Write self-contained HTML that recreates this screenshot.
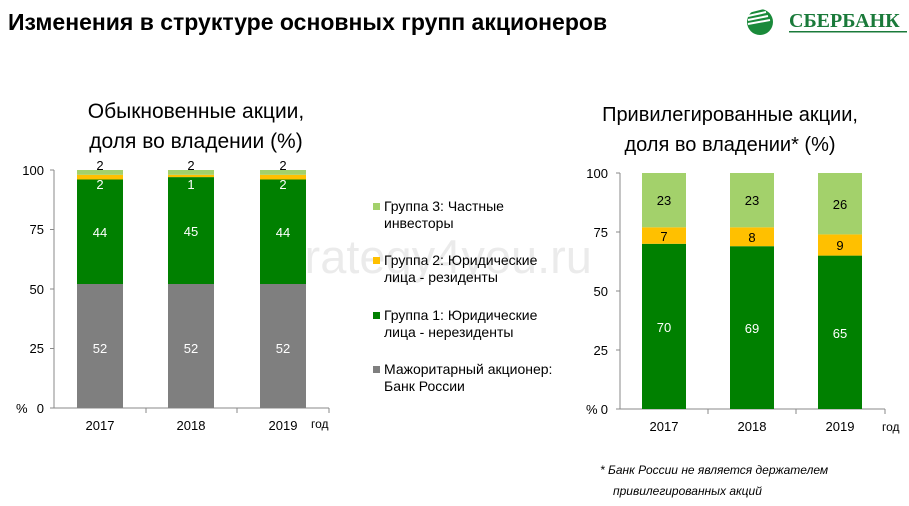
<!DOCTYPE html>
<html><head><meta charset="utf-8"><style>
body{margin:0;background:#fff;}
svg{display:block;font-family:"Liberation Sans",Arial,sans-serif;}
</style></head><body>
<svg width="909" height="506" viewBox="0 0 909 506" xmlns="http://www.w3.org/2000/svg">
<text x="8" y="30" font-size="23" font-weight="bold" fill="#000">Изменения в структуре основных групп акционеров</text>
<!-- logo -->
<circle cx="760" cy="22" r="13" fill="#1a8a3a"/>
<path d="M748 12 L764 8 M748 16 L766 12 M748 20 L768 16 M748 24 L770 20" stroke="#fff" stroke-width="2"/>
<text x="789" y="27" font-family="Liberation Serif,serif" font-size="20" font-weight="bold" fill="#1a7a3a">СБЕРБАНК</text>
<rect x="789" y="31" width="118" height="1.5" fill="#1a7a3a"/>
<!-- watermark -->
<text x="268" y="273" font-size="47" fill="#000" fill-opacity="0.08">strategy4you.ru</text>
<!-- left title -->
<text x="196" y="118" font-size="21" text-anchor="middle">Обыкновенные акции,</text>
<text x="196" y="148" font-size="21" text-anchor="middle">доля во владении  (%)</text>
<!-- left axes -->
<g stroke="#888" stroke-width="1">
<line x1="54" y1="170" x2="54" y2="408"/>
<line x1="54" y1="408" x2="329" y2="408"/>
<line x1="50" y1="170" x2="54" y2="170"/><line x1="50" y1="229.5" x2="54" y2="229.5"/><line x1="50" y1="289" x2="54" y2="289"/><line x1="50" y1="348.5" x2="54" y2="348.5"/><line x1="50" y1="408" x2="54" y2="408"/>
<line x1="146" y1="408" x2="146" y2="413"/><line x1="237" y1="408" x2="237" y2="413"/><line x1="329" y1="408" x2="329" y2="413"/>
</g>
<g font-size="13" text-anchor="end">
<text x="44" y="175">100</text><text x="44" y="234">75</text><text x="44" y="294">50</text><text x="44" y="353">25</text><text x="44" y="413">0</text>
</g>
<text x="16" y="413" font-size="13">%</text>
<g>
<rect x="77" y="284" width="46" height="124" fill="#7f7f7f"/><rect x="77" y="179.5" width="46" height="104.5" fill="#008000"/><rect x="77" y="174.8" width="46" height="4.7" fill="#ffc000"/><rect x="77" y="170" width="46" height="4.8" fill="#a3d16b"/>
<rect x="168" y="284" width="46" height="124" fill="#7f7f7f"/><rect x="168" y="177.1" width="46" height="106.9" fill="#008000"/><rect x="168" y="174.8" width="46" height="2.3" fill="#ffc000"/><rect x="168" y="170" width="46" height="4.8" fill="#a3d16b"/>
<rect x="260" y="284" width="46" height="124" fill="#7f7f7f"/><rect x="260" y="179.5" width="46" height="104.5" fill="#008000"/><rect x="260" y="174.8" width="46" height="4.7" fill="#ffc000"/><rect x="260" y="170" width="46" height="4.8" fill="#a3d16b"/>
</g>
<g font-size="13" text-anchor="middle" fill="#fff">
<text x="100" y="353">52</text><text x="191" y="353">52</text><text x="283" y="353">52</text>
<text x="100" y="237">44</text><text x="191" y="236">45</text><text x="283" y="237">44</text>
<text x="100" y="189">2</text><text x="191" y="189">1</text><text x="283" y="189">2</text>
</g>
<g font-size="13" text-anchor="middle" fill="#000">
<text x="100" y="170">2</text><text x="191" y="170">2</text><text x="283" y="170">2</text>
<text x="100" y="430">2017</text><text x="191" y="430">2018</text><text x="283" y="430">2019</text>
</g>
<text x="311" y="428" font-size="12">год</text>
<!-- legend -->
<g font-size="14" fill="#000">
<rect x="373" y="203" width="7" height="7" fill="#a3d16b"/><text x="384" y="211">Группа 3: Частные</text><text x="384" y="228">инвесторы</text>
<rect x="373" y="257" width="7" height="7" fill="#ffc000"/><text x="384" y="265">Группа 2: Юридические</text><text x="384" y="282">лица - резиденты</text>
<rect x="373" y="312" width="7" height="7" fill="#008000"/><text x="384" y="320">Группа 1: Юридические</text><text x="384" y="337">лица - нерезиденты</text>
<rect x="373" y="366" width="7" height="7" fill="#7f7f7f"/><text x="384" y="374">Мажоритарный акционер:</text><text x="384" y="391">Банк России</text>
</g>
<!-- right title -->
<text x="730" y="121" font-size="20" text-anchor="middle">Привилегированные акции,</text>
<text x="730" y="151" font-size="20" text-anchor="middle">доля во владении* (%)</text>
<g stroke="#888" stroke-width="1">
<line x1="620" y1="173" x2="620" y2="409"/>
<line x1="620" y1="409" x2="885" y2="409"/>
<line x1="616" y1="173" x2="620" y2="173"/><line x1="616" y1="232" x2="620" y2="232"/><line x1="616" y1="291" x2="620" y2="291"/><line x1="616" y1="350" x2="620" y2="350"/><line x1="616" y1="409" x2="620" y2="409"/>
<line x1="708" y1="409" x2="708" y2="414"/><line x1="796" y1="409" x2="796" y2="414"/><line x1="885" y1="409" x2="885" y2="414"/>
</g>
<g font-size="13" text-anchor="end">
<text x="608" y="178">100</text><text x="608" y="237">75</text><text x="608" y="296">50</text><text x="608" y="355">25</text><text x="608" y="414">0</text>
</g>
<text x="586" y="414" font-size="13">%</text>
<g>
<rect x="642" y="243.8" width="44" height="165.2" fill="#008000"/><rect x="642" y="227.3" width="44" height="16.5" fill="#ffc000"/><rect x="642" y="173" width="44" height="54.3" fill="#a3d16b"/>
<rect x="730" y="246.2" width="44" height="162.8" fill="#008000"/><rect x="730" y="227.3" width="44" height="18.9" fill="#ffc000"/><rect x="730" y="173" width="44" height="54.3" fill="#a3d16b"/>
<rect x="818" y="255.6" width="44" height="153.4" fill="#008000"/><rect x="818" y="234.4" width="44" height="21.2" fill="#ffc000"/><rect x="818" y="173" width="44" height="61.4" fill="#a3d16b"/>
</g>
<g font-size="13" text-anchor="middle" fill="#fff">
<text x="664" y="332">70</text><text x="752" y="333">69</text><text x="840" y="338">65</text>
</g>
<g font-size="13" text-anchor="middle" fill="#000">
<text x="664" y="205">23</text><text x="752" y="205">23</text><text x="840" y="209">26</text>
<text x="664" y="241">7</text><text x="752" y="242">8</text><text x="840" y="250">9</text>
<text x="664" y="431">2017</text><text x="752" y="431">2018</text><text x="840" y="431">2019</text>
</g>
<text x="882" y="431" font-size="12">год</text>
<g font-size="12" font-style="italic">
<text x="600" y="474">* Банк России не является держателем</text>
<text x="613" y="495">привилегированных акций</text>
</g>
</svg>
</body></html>
